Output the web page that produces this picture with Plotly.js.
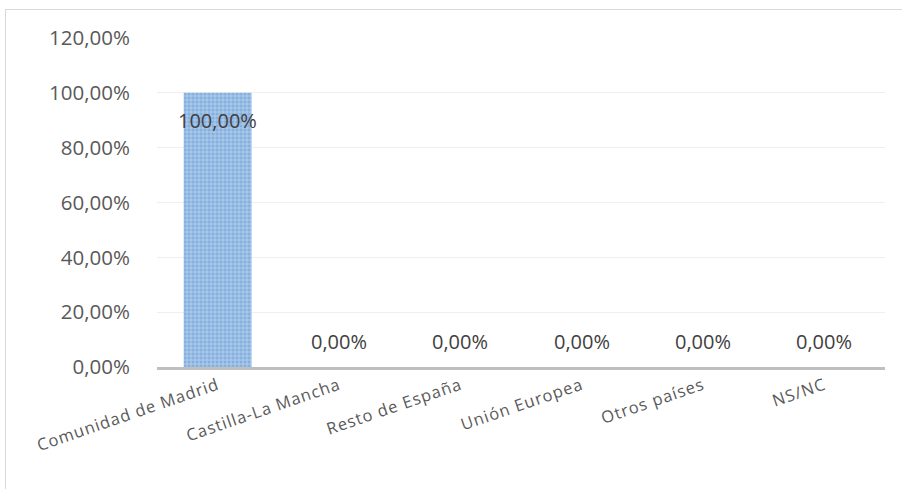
<!DOCTYPE html>
<html><head><meta charset="utf-8">
<script src="https://cdn.plot.ly/plotly-3.0.1.min.js"></script>
<style>
html,body{margin:0;padding:0;background:#fff;overflow:hidden;}
#frame{position:absolute;left:5px;top:9px;width:1200px;height:1200px;border:1px solid #d9d9d9;box-sizing:border-box;}
#chart{position:absolute;left:0;top:0;width:902px;height:489px;}
.xtick text{letter-spacing:1px;}
</style></head>
<body>
<div id="frame"></div>
<div id="chart"></div>
<script>
const categories = ["Comunidad de Madrid","Castilla-La Mancha","Resto de España","Unión Europea","Otros países","NS/NC"];
const values = [100, 0, 0, 0, 0, 0];
const labels = ["100,00%","0,00%","0,00%","0,00%","0,00%","0,00%"];
const yTickVals = [0,20,40,60,80,100,120];
const yTickText = ["0,00%","20,00%","40,00%","60,00%","80,00%","100,00%","120,00%"];

const numFont = {family:"Open Sans, sans-serif", size:20.5, color:"#595959"};
const dataFont = {family:"Open Sans, sans-serif", size:20, color:"#404040"};

const trace = {
  type:"bar", x:categories, y:values, width:0.56,
  marker:{color:"#8db4e2", line:{width:0},
    pattern:{shape:"+", fgcolor:"#cfe0f4", bgcolor:"#86b0e0", size:4, solidity:0.25}},
  hoverinfo:"skip"
};

const annotations = categories.map((c,i)=>({
  x:c, y:values[i], xref:"x", yref:"y", text:labels[i], showarrow:false,
  yshift: values[i] > 0 ? -28 : 26, font:dataFont
}));

const layout = {
  width:902, height:489,
  margin:{l:157, r:17, t:38, b:122},
  paper_bgcolor:"rgba(0,0,0,0)", plot_bgcolor:"rgba(0,0,0,0)",
  showlegend:false,
  xaxis:{type:"category", tickangle:-19, showgrid:false, zeroline:false,
    showline:true, linecolor:"#bfbfbf", linewidth:2.5, ticks:"", 
    tickfont:{family:"Open Sans, sans-serif", size:16.5, color:"#595959"}},
  yaxis:{range:[0,120], tickvals:yTickVals, ticktext:yTickText, showgrid:true,
    gridcolor:"#efefef", gridwidth:1, zeroline:false, showline:false,
    ticks:"outside", ticklen:22, tickcolor:"rgba(0,0,0,0)",
    tickfont:numFont},
  annotations:annotations
};
Plotly.newPlot("chart",[trace],layout,{displayModeBar:false, staticPlot:true});
</script>
</body></html>
